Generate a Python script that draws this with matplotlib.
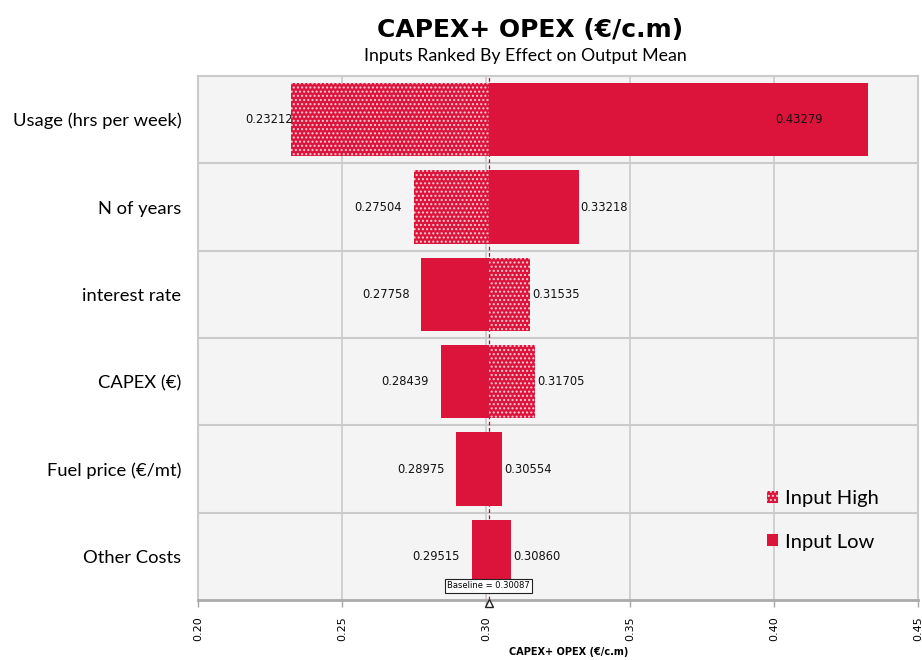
import matplotlib
matplotlib.use("Agg")
import matplotlib.pyplot as plt
from matplotlib.patches import Patch
from matplotlib.transforms import offset_copy

# ---- data ----
CATEGORIES = ["Usage (hrs per week)", "N of years", "interest rate",
              "CAPEX (€)", "Fuel price (€/mt)", "Other Costs"]
LEFT_VALUES = [0.23212, 0.27504, 0.27758, 0.28439, 0.28975, 0.29515]
RIGHT_VALUES = [0.43279, 0.33218, 0.31535, 0.31705, 0.30554, 0.30860]
LEFT_LEVEL = ["High", "High", "Low", "Low", "Low", "Low"]
RIGHT_LEVEL = ["Low", "Low", "High", "High", "Low", "Low"]
BASELINE = 0.30087
XTICKS = [0.20, 0.25, 0.30, 0.35, 0.40, 0.45]

CRIMSON = "#DC143C"
GRID = "#cbcbcb"
HATCH = {"High": "....", "Low": None}
LABEL_FONT = ["Lato", "DejaVu Sans"]

fig = plt.figure(figsize=(9.22, 6.6), dpi=100)
ax = fig.add_axes([198 / 922, 60 / 660, 720 / 922, 524 / 660])
ax.set_facecolor("#f4f4f4")

ys = list(range(len(CATEGORIES)))


def bar(ax, y, start, end, level):
    h = HATCH[level]
    ax.barh(y, end - start, left=start, height=0.84, color=CRIMSON,
            edgecolor=(1, 1, 1, 0.75) if h else CRIMSON, linewidth=0,
            hatch=h, zorder=3)


for y, lv, rv, ll, rl in zip(ys, LEFT_VALUES, RIGHT_VALUES, LEFT_LEVEL, RIGHT_LEVEL):
    bar(ax, y, lv, BASELINE, ll)
    bar(ax, y, BASELINE, rv, rl)
    # value labels
    ltr = offset_copy(ax.transData, fig=fig, x=-12 if y else 2, y=0, units="dots")
    ax.text(lv, y, f"{lv:.5f}", transform=ltr, ha="right", va="center",
            fontsize=8.3, color="#111111", zorder=5)
    inside = rv > 0.42
    rtr = offset_copy(ax.transData, fig=fig, x=-46 if inside else 2, y=0, units="dots")
    ax.text(rv, y, f"{rv:.5f}", transform=rtr, ha="right" if inside else "left",
            va="center", fontsize=8.3, color="#111111", zorder=5)

ax.axvline(BASELINE, color="#b0102a", lw=0.9, ls=(0, (3, 2)), zorder=2)

ax.set_xlim(XTICKS[0], XTICKS[-1])
ax.set_ylim(len(CATEGORIES) - 0.5, -0.5)
ax.set_xticks(XTICKS)
ax.set_xticklabels([f"{t:.2f}" for t in XTICKS], rotation=90, fontsize=8,
                   family="DejaVu Sans")
ax.set_yticks(ys)
ax.set_yticklabels(CATEGORIES, fontsize=13.2, family=LABEL_FONT)
ax.set_yticks([y + 0.5 for y in ys[:-1]], minor=True)
ax.tick_params(axis="y", which="both", length=0, pad=12)
ax.tick_params(axis="x", length=5, color="#a8a8a8", width=1, pad=7)
ax.grid(axis="x", color=GRID, lw=1.2, zorder=0)
ax.grid(axis="y", which="minor", color=GRID, lw=1.5, zorder=0)
ax.set_axisbelow(True)
for side in ["top", "left", "right"]:
    ax.spines[side].set_color(GRID)
    ax.spines[side].set_linewidth(1.5)
ax.spines["bottom"].set_color("#aaaaaa")
ax.spines["bottom"].set_linewidth(2)

# baseline marker + label
ax.plot([BASELINE], [len(CATEGORIES) - 0.5], marker="^", ms=6, mfc="white",
        mec="#222222", mew=1, clip_on=False, zorder=6,
        transform=offset_copy(ax.transData, fig=fig, x=0, y=-3, units="dots"))
ax.text(BASELINE, len(CATEGORIES) - 0.5, f"Baseline = {BASELINE:.5f}",
        transform=offset_copy(ax.transData, fig=fig, x=0, y=14, units="dots"),
        ha="center", va="center", fontsize=6, zorder=7,
        bbox=dict(boxstyle="square,pad=0.28", fc="white", ec="#222222", lw=0.8))

handles = [Patch(facecolor=CRIMSON, edgecolor=(1, 1, 1, 0.75), linewidth=0,
                 hatch="....", label="Input High"),
           Patch(facecolor=CRIMSON, edgecolor=CRIMSON, linewidth=0, label="Input Low")]
ax.legend(handles=handles, loc="upper left", bbox_to_anchor=(0.768, 0.24),
          frameon=False, prop={"family": LABEL_FONT, "size": 14.5},
          handlelength=0.55, handleheight=0.55, handletextpad=0.35, labelspacing=1.3,
          borderpad=0.3)

fig.text(530 / 922, 1 - 30 / 660, "CAPEX+ OPEX (€/c.m)", ha="center", va="center",
         fontsize=18, fontweight="bold", family="DejaVu Sans")
fig.text(525 / 922, 1 - 56 / 660, "Inputs Ranked By Effect on Output Mean",
         ha="center", va="center", fontsize=12.8, family=LABEL_FONT)
fig.text(569 / 922, 1 - 652 / 660, "CAPEX+ OPEX (€/c.m)", ha="center", va="center",
         fontsize=7.8, fontweight="bold", fontstretch="condensed", family="DejaVu Sans")

fig.savefig("out.png", dpi=100, facecolor="white")
